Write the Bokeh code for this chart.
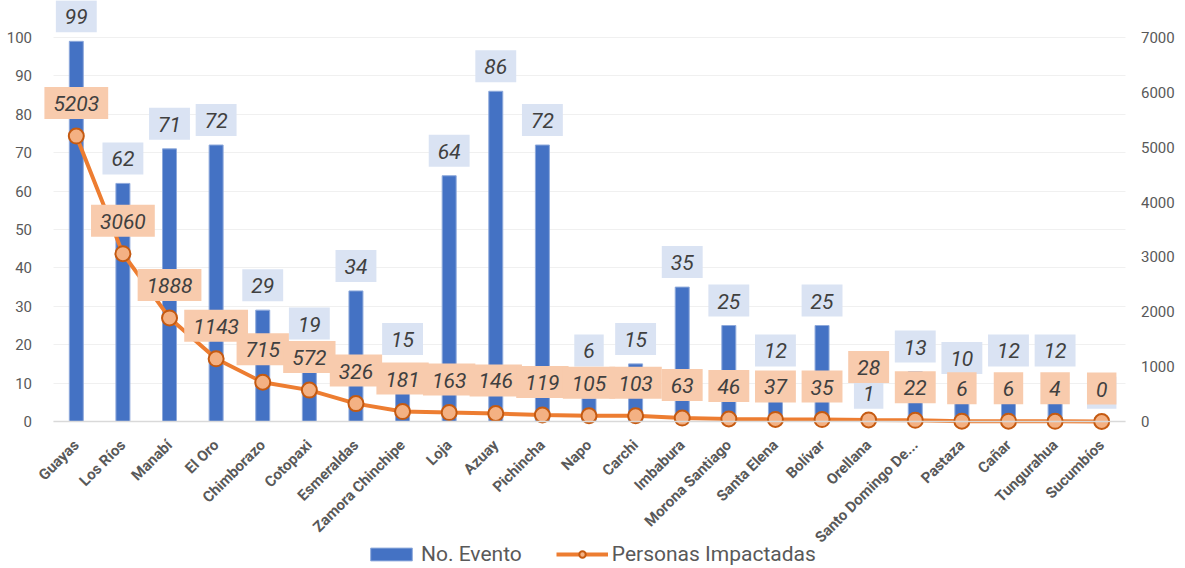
from bokeh.plotting import figure
from bokeh.models import (ColumnDataSource, Range1d, FactorRange, LinearAxis, FixedTicker,
                          Legend, LegendItem)
from bokeh.core.properties import value
from bokeh.embed import file_html
from bokeh.resources import INLINE

provinces = ["Guayas", "Los Ríos", "Manabí", "El Oro", "Chimborazo", "Cotopaxi", "Esmeraldas",
             "Zamora Chinchipe", "Loja", "Azuay", "Pichincha", "Napo", "Carchi", "Imbabura",
             "Morona Santiago", "Santa Elena", "Bolívar", "Orellana", "Santo Domingo De...",
             "Pastaza", "Cañar", "Tungurahua", "Sucumbíos"]
eventos = [99, 62, 71, 72, 29, 19, 34, 15, 64, 86, 72, 6, 15, 35, 25, 12, 25, 1, 13, 10, 12, 12, 1]
personas = [5203, 3060, 1888, 1143, 715, 572, 326, 181, 163, 146, 119, 105, 103, 63, 46, 37, 35,
            28, 22, 6, 6, 4, 0]
left_ticks = [0, 10, 20, 30, 40, 50, 60, 70, 80, 90, 100]
right_ticks = [0, 1000, 2000, 3000, 4000, 5000, 6000, 7000]

# label nudges (pixels): default placement above the mark, a few moved to avoid overlaps
bar_label_offset = [-25] * len(provinces)
bar_label_offset[provinces.index("Napo")] = -48
line_label_offset = [-33] * len(provinces)
line_label_offset[provinces.index("Orellana")] = -53

src = ColumnDataSource(dict(
    cat=provinces, ev=eventos, per=personas,
    ev_txt=[str(v) for v in eventos], per_txt=[str(v) for v in personas],
    boff=bar_label_offset, loff=line_label_offset,
))

W, H = 1177, 568
N = len(provinces)
SIDE_PAD_PX = 52.5
PAD_UNITS = SIDE_PAD_PX * N / (W - 2 * SIDE_PAD_PX)
ZERO_Y = 421          # screen y of value 0
PX_PER_UNIT = 3.84    # pixels per event unit
L_START = -(H - ZERO_Y) / PX_PER_UNIT
L_END = ZERO_Y / PX_PER_UNIT
RATIO = right_ticks[-1] / left_ticks[-1]  # persons per event unit

p = figure(width=W, height=H, output_backend="svg", toolbar_location=None,
           x_range=FactorRange(*provinces, range_padding=PAD_UNITS,
                               range_padding_units="absolute"),
           y_range=Range1d(L_START, L_END),
           min_border_left=0, min_border_right=0, min_border_top=0, min_border_bottom=0)
p.extra_y_ranges = {"right": Range1d(L_START * RATIO, L_END * RATIO)}
p.outline_line_color = None
p.background_fill_color = "white"
p.border_fill_color = "white"

FONT = "Roboto"
GRAY = "#595959"

# left axis, drawn at the left edge of the first category
ly = p.yaxis[0]
ly.fixed_location = 0
ly.ticker = FixedTicker(ticks=left_ticks)
ly.axis_line_color = None
ly.major_tick_line_color = None
ly.minor_tick_line_color = None
ly.major_label_text_font = FONT
ly.major_label_text_font_size = "15px"
ly.major_label_text_color = GRAY
ly.major_label_standoff = 15

# right axis, drawn at the right edge of the last category
ra = LinearAxis(y_range_name="right", ticker=FixedTicker(ticks=right_ticks),
                fixed_location=N)
ra.axis_line_color = None
ra.major_tick_line_color = None
ra.minor_tick_line_color = None
ra.major_label_text_font = FONT
ra.major_label_text_font_size = "15px"
ra.major_label_text_color = GRAY
ra.major_label_standoff = 10
p.add_layout(ra, "right")

# x axis drawn at value 0 inside the frame
xa = p.xaxis[0]
xa.fixed_location = 0
xa.bounds = (0, N)
xa.axis_line_color = "#D9D9D9"
xa.axis_line_width = 1.5
xa.major_tick_line_color = None
xa.major_label_orientation = 0.785398
xa.major_label_text_font = FONT
xa.major_label_text_font_style = "bold"
xa.major_label_text_font_size = "15px"
xa.major_label_text_color = GRAY
xa.major_label_standoff = 15

p.xgrid.grid_line_color = None
p.ygrid.grid_line_color = "#F0F0F0"
p.ygrid.grid_line_width = 1
try:
    p.ygrid[0].cross_bounds = (0, N)
except Exception:
    pass

bars = p.vbar(x="cat", top="ev", width=0.3, source=src, fill_color="#4472C4",
              line_color="#8EA9DB", line_width=1)

line = p.line(x="cat", y="per", source=src, y_range_name="right", line_color="#ED7D31",
              line_width=4)
marks = p.scatter(x="cat", y="per", source=src, y_range_name="right", size=15,
                  fill_color="#F4B183", line_color="#C55A11", line_width=2)

PAD = dict(left=9, right=9, top=9, bottom=8)
p.text(x="cat", y="ev", text="ev_txt", source=src, y_offset="boff",
       text_align="center", text_baseline="middle", text_font=value(FONT),
       text_font_style="italic", text_font_size="21px", text_color="#404040",
       background_fill_color="#DAE3F3", padding=PAD)

p.text(x="cat", y="per", text="per_txt", source=src, y_range_name="right", y_offset="loff",
       text_align="center", text_baseline="middle", text_font=value(FONT),
       text_font_style="italic", text_font_size="21px", text_color="#404040",
       background_fill_color="#F8CBAD", padding=PAD)

legend = Legend(items=[LegendItem(label="No. Evento", renderers=[bars]),
                       LegendItem(label="Personas Impactadas", renderers=[line, marks])],
                orientation="horizontal", location=(365, 2),
                glyph_width=52, glyph_height=16, label_standoff=4, spacing=34,
                padding=0, margin=0, border_line_color=None, background_fill_alpha=0,
                label_text_font=FONT, label_text_font_size="21px", label_text_color=GRAY)
p.add_layout(legend, "center")

open("out.html", "w").write(file_html(p, INLINE))
